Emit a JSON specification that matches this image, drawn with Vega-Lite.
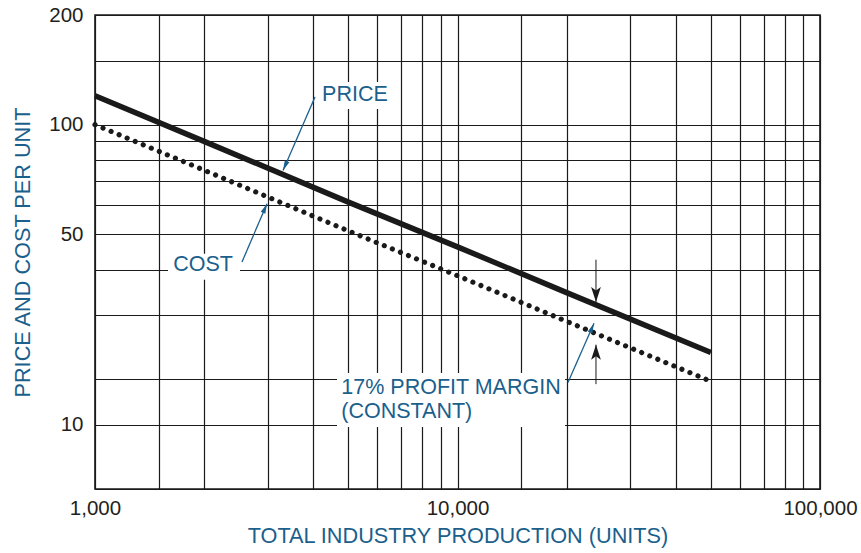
{
  "$schema": "https://vega.github.io/schema/vega-lite/v6.json",
  "width": 725,
  "height": 474,
  "autosize": "none",
  "padding": {"left": 95, "top": 15, "right": 41, "bottom": 64},
  "background": "white",
  "config": {
    "font": "Liberation Sans",
    "view": {"stroke": "#1a1a1a", "strokeWidth": 1.6},
    "axis": {
      "grid": true,
      "gridColor": "#1a1a1a",
      "gridWidth": 1.2,
      "gridOpacity": 1,
      "domain": false,
      "ticks": false,
      "labelFont": "Liberation Sans",
      "labelFontSize": 20.5,
      "labelColor": "#231f20",
      "labelOverlap": false,
      "labelFlush": false,
      "titleFont": "Liberation Sans",
      "titleFontSize": 21.7,
      "titleFontWeight": "normal",
      "titleColor": "#1b5f8c"
    },
    "axisX": {"labelPadding": 9, "titlePadding": 7},
    "axisY": {"labelPadding": 12, "titlePadding": 14}
  },
  "datasets": {
    "boxes": [
      {"x1": 4120, "x2": 6720, "y1": 110.4, "y2": 131},
      {"x1": 1590, "x2": 2512, "y1": 37.5, "y2": 44.2},
      {"x1": 4652, "x2": 19800, "y1": 14.8, "y2": 20.8}
    ],
    "curves": [
      {"series": "Price", "units": 1000, "value": 120},
      {"series": "Price", "units": 2000, "value": 90},
      {"series": "Price", "units": 5000, "value": 61.3},
      {"series": "Price", "units": 10000, "value": 46.2},
      {"series": "Price", "units": 20000, "value": 34.6},
      {"series": "Price", "units": 50000, "value": 23.7},
      {"series": "Cost", "units": 1000, "value": 100},
      {"series": "Cost", "units": 2000, "value": 75},
      {"series": "Cost", "units": 5000, "value": 51.1},
      {"series": "Cost", "units": 10000, "value": 38.5},
      {"series": "Cost", "units": 20000, "value": 28.85},
      {"series": "Cost", "units": 50000, "value": 19.75}
    ],
    "leaders": [
      {"id": "price", "x1": 4045, "y1": 119.1, "x2": 3301, "y2": 74.9},
      {"id": "cost", "x1": 2544, "y1": 42.0, "x2": 2982, "y2": 60.7},
      {"id": "margin", "x1": 20170, "y1": 19.6, "x2": 23800, "y2": 28.5}
    ],
    "margin": [
      {"id": "down", "x1": 24100, "y1": 42.6, "x2": 24100, "y2": 32.6},
      {"id": "up", "x1": 24100, "y1": 19.4, "x2": 24100, "y2": 24.9}
    ],
    "labels": [
      {"text": "PRICE", "units": 5212, "value": 120.6, "align": "center"},
      {"text": "COST", "units": 1986, "value": 41.2, "align": "center"},
      {"text": "17% PROFIT MARGIN", "units": 4780, "value": 18.9, "align": "left"},
      {"text": "(CONSTANT)", "units": 4780, "value": 16.3, "align": "left"}
    ]
  },
  "layer": [
    {
      "data": {"name": "boxes"},
      "mark": {"type": "rect", "fill": "white", "stroke": null},
      "encoding": {
        "x": {
          "field": "x1", "type": "quantitative",
          "scale": {"type": "log", "domain": [1000, 100000], "nice": false},
          "title": "TOTAL INDUSTRY PRODUCTION (UNITS)",
          "axis": {
            "values": [1000, 1500, 2000, 3000, 4000, 5000, 6000, 7000, 8000, 9000, 10000, 15000, 20000, 30000, 40000, 50000, 60000, 70000, 80000, 90000, 100000],
            "labelExpr": "datum.value == 1000 || datum.value == 10000 || datum.value == 100000 ? format(datum.value, ',') : ''"
          }
        },
        "x2": {"field": "x2"},
        "y": {
          "field": "y1", "type": "quantitative",
          "scale": {"type": "log", "domain": [10, 200], "nice": false},
          "title": "PRICE AND COST PER UNIT",
          "axis": {
            "values": [10, 15, 20, 30, 40, 50, 60, 70, 80, 90, 100, 150, 200],
            "labelExpr": "datum.value == 200 ? '200' : datum.value == 100 ? '100' : datum.value == 50 ? '50' : datum.value == 15 ? '10' : ''"
          }
        },
        "y2": {"field": "y2"}
      }
    },
    {
      "data": {"name": "curves"},
      "transform": [{"filter": "datum.series == 'Price'"}],
      "mark": {"type": "line", "color": "#1a1a1a", "strokeWidth": 5.5, "strokeCap": "butt"},
      "encoding": {
        "x": {"field": "units", "type": "quantitative", "title": "TOTAL INDUSTRY PRODUCTION (UNITS)"},
        "y": {"field": "value", "type": "quantitative", "title": "PRICE AND COST PER UNIT"}
      }
    },
    {
      "data": {"name": "curves"},
      "transform": [{"filter": "datum.series == 'Cost'"}],
      "mark": {"type": "line", "color": "#1a1a1a", "strokeWidth": 5.2, "strokeCap": "round", "strokeDash": [0.01, 8.7]},
      "encoding": {
        "x": {"field": "units", "type": "quantitative", "title": "TOTAL INDUSTRY PRODUCTION (UNITS)"},
        "y": {"field": "value", "type": "quantitative", "title": "PRICE AND COST PER UNIT"}
      }
    },
    {
      "data": {"name": "leaders"},
      "mark": {"type": "rule", "color": "#1b5f8c", "strokeWidth": 1.3},
      "encoding": {
        "x": {"field": "x1", "type": "quantitative", "title": "TOTAL INDUSTRY PRODUCTION (UNITS)"},
        "y": {"field": "y1", "type": "quantitative", "title": "PRICE AND COST PER UNIT"},
        "x2": {"field": "x2"},
        "y2": {"field": "y2"}
      }
    },
    {
      "data": {"name": "leaders"},
      "transform": [{"filter": "datum.id == 'price'"}],
      "mark": {"type": "point", "shape": "M0,0L0.5,2L-0.5,2Z", "size": 100, "filled": true, "color": "#1b5f8c", "opacity": 1, "angle": 204},
      "encoding": {
        "x": {"field": "x2", "type": "quantitative", "title": "TOTAL INDUSTRY PRODUCTION (UNITS)"},
        "y": {"field": "y2", "type": "quantitative", "title": "PRICE AND COST PER UNIT"}
      }
    },
    {
      "data": {"name": "leaders"},
      "transform": [{"filter": "datum.id != 'price'"}],
      "mark": {"type": "point", "shape": "M0,0L0.5,2L-0.5,2Z", "size": 100, "filled": true, "color": "#1b5f8c", "opacity": 1, "angle": 23.5},
      "encoding": {
        "x": {"field": "x2", "type": "quantitative", "title": "TOTAL INDUSTRY PRODUCTION (UNITS)"},
        "y": {"field": "y2", "type": "quantitative", "title": "PRICE AND COST PER UNIT"}
      }
    },
    {
      "data": {"name": "margin"},
      "mark": {"type": "rule", "color": "#1a1a1a", "strokeWidth": 1},
      "encoding": {
        "x": {"field": "x1", "type": "quantitative", "title": "TOTAL INDUSTRY PRODUCTION (UNITS)"},
        "y": {"field": "y1", "type": "quantitative", "title": "PRICE AND COST PER UNIT"},
        "y2": {"field": "y2"}
      }
    },
    {
      "data": {"name": "margin"},
      "transform": [{"filter": "datum.id == 'down'"}],
      "mark": {"type": "point", "shape": "M0,0L0.65,2L0,1.55L-0.65,2Z", "size": 225, "filled": true, "color": "#1a1a1a", "opacity": 1, "angle": 180},
      "encoding": {
        "x": {"field": "x2", "type": "quantitative", "title": "TOTAL INDUSTRY PRODUCTION (UNITS)"},
        "y": {"field": "y2", "type": "quantitative", "title": "PRICE AND COST PER UNIT"}
      }
    },
    {
      "data": {"name": "margin"},
      "transform": [{"filter": "datum.id == 'up'"}],
      "mark": {"type": "point", "shape": "M0,0L0.65,2L0,1.55L-0.65,2Z", "size": 225, "filled": true, "color": "#1a1a1a", "opacity": 1, "angle": 0},
      "encoding": {
        "x": {"field": "x2", "type": "quantitative", "title": "TOTAL INDUSTRY PRODUCTION (UNITS)"},
        "y": {"field": "y2", "type": "quantitative", "title": "PRICE AND COST PER UNIT"}
      }
    },
    {
      "data": {"name": "labels"},
      "transform": [{"filter": "datum.align == 'center'"}],
      "mark": {"type": "text", "font": "Liberation Sans", "fontSize": 21.5, "color": "#1b5f8c", "align": "center", "baseline": "middle"},
      "encoding": {
        "x": {"field": "units", "type": "quantitative", "title": "TOTAL INDUSTRY PRODUCTION (UNITS)"},
        "y": {"field": "value", "type": "quantitative", "title": "PRICE AND COST PER UNIT"},
        "text": {"field": "text"}
      }
    },
    {
      "data": {"name": "labels"},
      "transform": [{"filter": "datum.align == 'left'"}],
      "mark": {"type": "text", "font": "Liberation Sans", "fontSize": 21.5, "color": "#1b5f8c", "align": "left", "baseline": "middle"},
      "encoding": {
        "x": {"field": "units", "type": "quantitative", "title": "TOTAL INDUSTRY PRODUCTION (UNITS)"},
        "y": {"field": "value", "type": "quantitative", "title": "PRICE AND COST PER UNIT"},
        "text": {"field": "text"}
      }
    }
  ]
}
